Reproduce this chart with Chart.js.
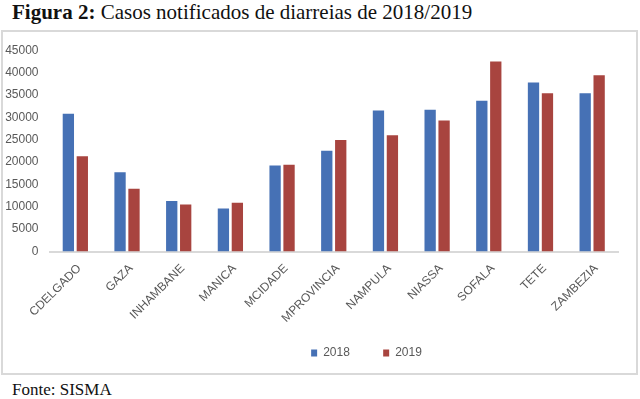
<!DOCTYPE html>
<html>
<head>
<meta charset="utf-8">
<script src="https://cdn.jsdelivr.net/npm/chart.js@4"></script>
<style>
  html, body { margin: 0; padding: 0; background: #fff; }
  body { width: 640px; height: 399px; position: relative; overflow: hidden; }
  #title { position: absolute; left: 12px; top: 0px; font-family: "Liberation Serif", "Times New Roman", serif; font-size: 21px; color: #111; white-space: nowrap; }
  #box { position: absolute; left: 1px; top: 30px; width: 633px; height: 341px; border: 2px solid #d9d9d9; }
  #wrap { position: absolute; left: 0; top: 0; width: 633px; height: 341px; }
  #source { position: absolute; left: 12px; top: 380px; font-family: "Liberation Serif", "Times New Roman", serif; font-size: 17px; color: #111; }
</style>
</head>
<body>
<div id="title"><b>Figura 2:</b> Casos notificados de diarreias de 2018/2019</div>
<div id="box"><div id="wrap"><canvas id="diarreiaChart"></canvas></div></div>
<div id="source">Fonte: SISMA</div>
<script>
const provincias = ["CDELGADO", "GAZA", "INHAMBANE", "MANICA", "MCIDADE", "MPROVINCIA", "NAMPULA", "NIASSA", "SOFALA", "TETE", "ZAMBEZIA"];
const casos2018 = [30800, 17700, 11300, 9600, 19200, 22500, 31500, 31700, 33700, 37800, 35400];
const casos2019 = [21300, 14000, 10500, 10900, 19400, 24900, 26000, 29300, 42500, 35400, 39400];
const anos = ["2018", "2019"];
const yMax = 45000;
const yStep = 5000;

const textColor = "#595959";
const axisFont = { family: "'Liberation Sans', Arial, sans-serif", size: 12 };

// move legend a bit to the right like in the original figure
const legendShift = {
    id: "legendShift",
    afterLayout(chart) {
        chart.legend.left += 56;
        chart.legend.right += 56;
    }
};

new Chart(document.getElementById("diarreiaChart"), {
    type: "bar",
    data: {
        labels: provincias,
        datasets: [
            { label: anos[0], data: casos2018, backgroundColor: "#4671b5", categoryPercentage: 0.54, barPercentage: 0.81 },
            { label: anos[1], data: casos2019, backgroundColor: "#a8443f", categoryPercentage: 0.54, barPercentage: 0.81 }
        ]
    },
    options: {
        responsive: true,
        maintainAspectRatio: false,
        animation: false,
        layout: { padding: { top: 11.5, right: 18, bottom: 4, left: 0 } },
        scales: {
            x: {
                grid: { display: false, drawTicks: false },
                border: { display: true, color: "#d9d9d9", width: 2 },
                ticks: { color: textColor, font: { family: axisFont.family, size: 12 }, minRotation: 45, maxRotation: 45, padding: 10, labelOffset: 4 },
                afterFit(scale) { scale.height = 85.5; }
            },
            y: {
                min: 0,
                max: yMax,
                grid: { display: false, drawTicks: false },
                border: { display: false },
                ticks: { stepSize: yStep, color: textColor, font: axisFont, padding: 11, callback: v => String(v) },
                afterFit(scale) { scale.width = 46.5; }
            }
        },
        plugins: {
            tooltip: { enabled: false },
            legend: {
                position: "bottom",
                labels: {
                    color: textColor,
                    font: axisFont,
                    boxWidth: 6,
                    boxHeight: 7,
                    generateLabels(chart) {
                        const items = Chart.defaults.plugins.legend.labels.generateLabels(chart);
                        items[0].text += "       ";
                        return items;
                    }
                }
            }
        }
    },
    plugins: [legendShift]
});
</script>
</body>
</html>
